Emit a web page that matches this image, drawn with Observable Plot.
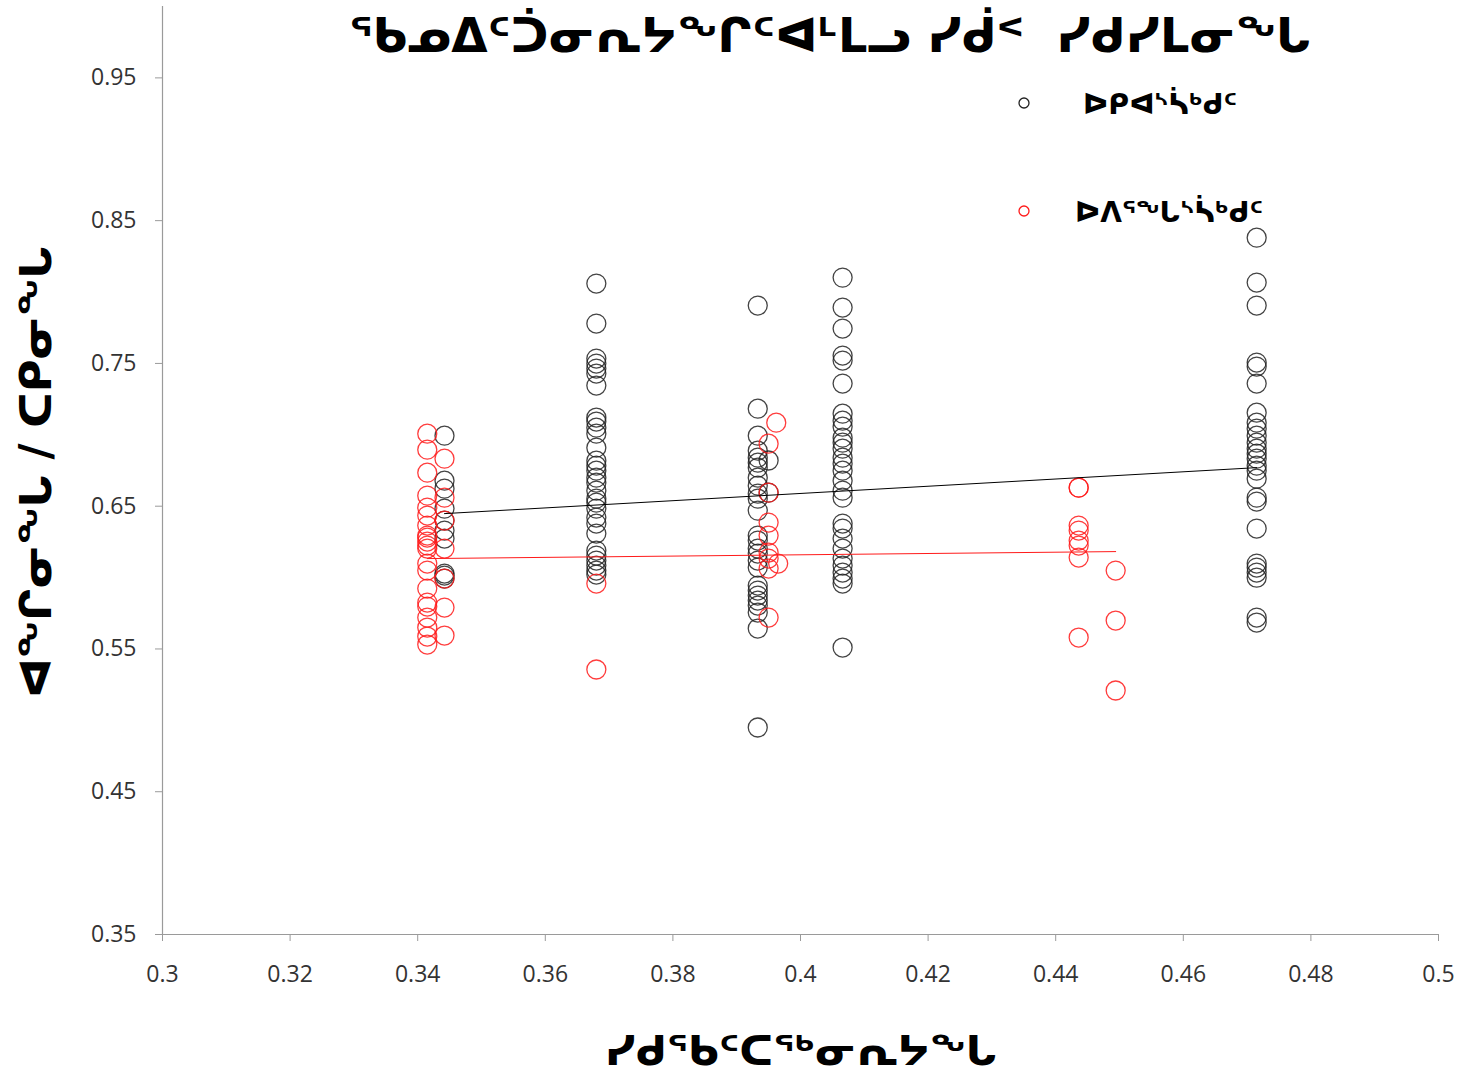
<!DOCTYPE html>
<html>
<head>
<meta charset="utf-8">
<script src="https://cdn.jsdelivr.net/npm/d3@7"></script>
<script src="https://cdn.jsdelivr.net/npm/@observablehq/plot@0.6"></script>
<style>
  html, body { margin: 0; padding: 0; background: #fff; }
  #chart { position: relative; width: 1460px; height: 1076px; }
</style>
</head>
<body>
<div id="chart"></div>
<script>
// ---- text ----
const titleText = "ᖃᓄᐃᑦᑑᓂᕆᔭᖏᑦᐊᒻᒪᓗ ᓯᑰᑉ  ᓯᑯᓯᒪᓂᖓ";
const xLabel = "ᓯᑯᖃᑦᑕᖅᓂᕆᔭᖓ";
const yLabel = "ᐊᖏᓂᖓ / ᑕᑭᓂᖓ";
const seriesNames = ["ᐅᑭᐊᔅᓵᒃᑯᑦ", "ᐅᐱᕐᖓᔅᓵᒃᑯᑦ"];

// ---- ticks ----
const xTicks = [0.3, 0.32, 0.34, 0.36, 0.38, 0.4, 0.42, 0.44, 0.46, 0.48, 0.5];
const xTickLabels = ["0.3", "0.32", "0.34", "0.36", "0.38", "0.4", "0.42", "0.44", "0.46", "0.48", "0.5"];
const yTicks = [0.35, 0.45, 0.55, 0.65, 0.75, 0.85, 0.95];
const yTickLabels = ["0.35", "0.45", "0.55", "0.65", "0.75", "0.85", "0.95"];

// ---- series 1 (black) ----
const autumnX = [
  0.3442,0.3442,0.3442,0.3442,0.3442,0.3442,0.3442,0.3442,0.3442,0.3442,
  0.368,0.368,0.368,0.368,0.368,0.368,0.368,0.368,0.368,0.368,
  0.368,0.368,0.368,0.368,0.368,0.368,0.368,0.368,0.368,0.368,
  0.368,0.368,0.368,0.368,0.368,0.368,0.368,0.368,0.368,0.368,
  0.3933,0.3933,0.3933,0.3933,0.3933,0.3933,0.3933,0.3933,0.3933,0.3933,
  0.3933,0.3933,0.3933,0.3933,0.3933,0.3933,0.3933,0.3933,0.3933,0.3933,
  0.3933,0.3933,0.3933,0.3933,0.3933,0.3933,0.395,0.395,
  0.4066,0.4066,0.4066,0.4066,0.4066,0.4066,0.4066,0.4066,0.4066,0.4066,
  0.4066,0.4066,0.4066,0.4066,0.4066,0.4066,0.4066,0.4066,0.4066,0.4066,
  0.4066,0.4066,0.4066,0.4066,0.4066,0.4066,0.4066,0.4066,
  0.4715,0.4715,0.4715,0.4715,0.4715,0.4715,0.4715,0.4715,0.4715,0.4715,
  0.4715,0.4715,0.4715,0.4715,0.4715,0.4715,0.4715,0.4715,0.4715,0.4715,
  0.4715,0.4715,0.4715,0.4715,0.4715,0.4715
];
const autumnY = [
  0.6994,0.6679,0.6623,0.6483,0.6399,0.6329,0.6273,0.6028,0.6014,0.5993,
  0.8059,0.7779,0.7534,0.7499,0.7464,0.7429,0.7345,0.7121,0.7093,0.7050,
  0.7008,0.6910,0.6819,0.6784,0.6749,0.6700,0.6665,0.6609,0.6553,0.6525,
  0.6483,0.6420,0.6378,0.6308,0.6189,0.6154,0.6119,0.6084,0.6049,0.6021,
  0.7905,0.7183,0.6994,0.6889,0.6840,0.6805,0.6770,0.6700,0.6644,0.6588,
  0.6553,0.6469,0.6294,0.6259,0.6203,0.6168,0.6119,0.6070,0.5944,0.5909,
  0.5874,0.5839,0.5804,0.5755,0.5643,0.4950,0.6820,0.6595,
  0.8101,0.7891,0.7744,0.7555,0.7520,0.7359,0.7148,0.7099,0.7057,0.6980,
  0.6945,0.6903,0.6840,0.6798,0.6749,0.6679,0.6609,0.6560,0.6378,0.6343,
  0.6273,0.6203,0.6133,0.6084,0.6035,0.5993,0.5958,0.5510,
  0.8381,0.8066,0.7905,0.7506,0.7478,0.7359,0.7155,0.7085,0.7043,0.6994,
  0.6945,0.6903,0.6868,0.6833,0.6784,0.6749,0.6693,0.6560,0.6532,0.6343,
  0.6098,0.6070,0.6035,0.5999,0.5720,0.5685
];
// linear trend line as drawn in the reference (end points)
const autumnTrendX = [0.3442, 0.4715];
const autumnTrendY = [0.6448, 0.6770];

// ---- series 2 (red) ----
const springX = [
  0.3415,0.3415,0.3415,0.3415,0.3415,0.3415,0.3415,0.3415,0.3415,0.3415,
  0.3415,0.3415,0.3415,0.3415,0.3415,0.3415,0.3415,0.3415,0.3415,0.3415,0.3415,
  0.3442,0.3442,0.3442,0.3442,0.3442,0.3442,0.3442,
  0.368,0.368,
  0.395,0.395,0.395,0.395,0.395,0.395,0.395,0.395,0.3962,0.3965,
  0.4436,0.4436,0.4436,0.4436,0.4436,0.4436,0.4436,0.4436,
  0.4494,0.4494,0.4494
];
const springY = [
  0.7008,0.6896,0.6735,0.6574,0.6490,0.6434,0.6364,0.6294,0.6280,0.6252,
  0.6224,0.6203,0.6098,0.6049,0.5923,0.5825,0.5797,0.5720,0.5650,0.5587,0.5531,
  0.6833,0.6560,0.6399,0.6203,0.5993,0.5790,0.5594,
  0.5958,0.5356,
  0.6938,0.6595,0.6385,0.6294,0.6175,0.6133,0.6063,0.5720,0.7085,0.6098,
  0.6630,0.6630,0.6364,0.6329,0.6259,0.6224,0.6140,0.5580,
  0.6049,0.5699,0.5209
];
const springTrendX = [0.3415, 0.4494];
const springTrendY = [0.6133, 0.6182];

const autumn = autumnX.map((x, i) => ({x, y: autumnY[i]}));
const spring = springX.map((x, i) => ({x, y: springY[i]}));
const autumnTrend = autumnTrendX.map((x, i) => ({x, y: autumnTrendY[i]}));
const springTrend = springTrendX.map((x, i) => ({x, y: springTrendY[i]}));

const black = "#222222";
const red = "#ff1a1a";
const axisGray = "#9a9a9a";
const syllFont = "'DejaVu Sans', sans-serif";

const plot = Plot.plot({
  width: 1460,
  height: 1076,
  marginLeft: 162,
  marginRight: 22,
  marginTop: 6,
  marginBottom: 142,
  style: {fontFamily: "'Open Sans', sans-serif", fontSize: "23px", color: "#333", background: "#fff"},
  x: {domain: [0.3, 0.5]},
  y: {domain: [0.35, 1.0]},
  marks: [
    Plot.ruleX([0.3], {y1: 0.35, y2: 1.0, stroke: axisGray, strokeWidth: 1.2}),
    Plot.ruleY([0.35], {stroke: axisGray, strokeWidth: 1.2}),
    Plot.axisX({ticks: xTicks, tickFormat: (d) => xTickLabels[xTicks.indexOf(d)], tickSize: 7, tickPadding: 24, stroke: axisGray, label: null}),
    Plot.axisY({ticks: yTicks, tickFormat: (d) => yTickLabels[yTicks.indexOf(d)], tickSize: 7, tickPadding: 19, stroke: axisGray, label: null}),
    Plot.dot(autumn, {x: "x", y: "y", r: 9.5, stroke: black, strokeWidth: 1.3, fill: "none", strokeOpacity: 0.85}),
    Plot.dot(spring, {x: "x", y: "y", r: 9.5, stroke: red, strokeWidth: 1.3, fill: "none", strokeOpacity: 0.85}),
    Plot.line(autumnTrend, {x: "x", y: "y", stroke: "#000", strokeWidth: 1}),
    Plot.line(springTrend, {x: "x", y: "y", stroke: red, strokeWidth: 1})
  ]
});

document.getElementById("chart").appendChild(plot);

// ---- title, axis labels, legend ----
const svg = d3.select(plot);
svg.append("text")
  .attr("x", 830).attr("y", 52)
  .attr("text-anchor", "middle")
  .attr("font-family", syllFont).attr("font-weight", "bold").attr("font-size", 47)
  .attr("fill", "#000")
  .text(titleText);

svg.append("text")
  .attr("x", 801).attr("y", 1065)
  .attr("text-anchor", "middle")
  .attr("font-family", syllFont).attr("font-weight", "bold").attr("font-size", 42)
  .attr("fill", "#000")
  .text(xLabel);

svg.append("text")
  .attr("transform", "translate(51,472) rotate(-90)")
  .attr("text-anchor", "middle")
  .attr("font-family", syllFont).attr("font-weight", "bold").attr("font-size", 44)
  .attr("fill", "#000")
  .text(yLabel);

const legend = svg.append("g");
const legendRows = [
  {name: seriesNames[0], color: black, cy: 103, tx: 1083},
  {name: seriesNames[1], color: red, cy: 211, tx: 1075}
];
legendRows.forEach(r => {
  legend.append("circle").attr("cx", 1024).attr("cy", r.cy).attr("r", 5)
    .attr("fill", "none").attr("stroke", r.color).attr("stroke-width", 1.3);
  legend.append("text").attr("x", r.tx).attr("y", r.cy + 11)
    .attr("text-anchor", "start")
    .attr("font-family", syllFont).attr("font-weight", "bold").attr("font-size", 28)
    .attr("fill", "#000").text(r.name);
});
</script>
</body>
</html>
